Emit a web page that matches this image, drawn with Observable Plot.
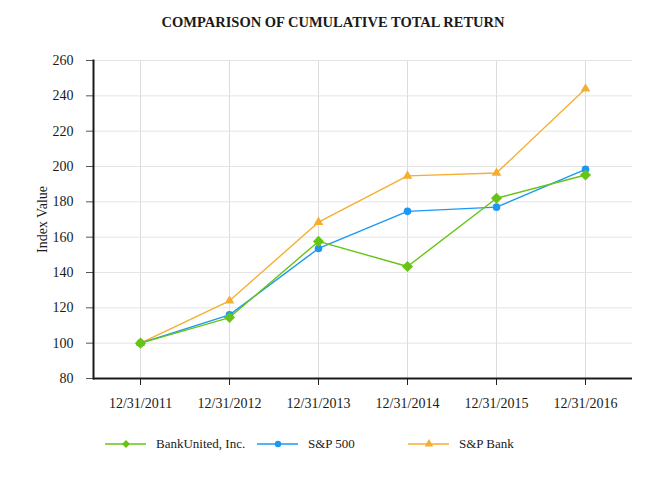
<!DOCTYPE html>
<html>
<head>
<meta charset="utf-8">
<script src="https://cdn.jsdelivr.net/npm/d3@7"></script>
<script src="https://cdn.jsdelivr.net/npm/@observablehq/plot@0.6"></script>
<style>
  html, body { margin: 0; padding: 0; background: #fff; }
  body { width: 666px; height: 480px; position: relative; overflow: hidden; font-family: "Liberation Serif", "DejaVu Serif", serif; color: #1a1a1a; }
  #title { height: 40px; line-height: 45px; text-align: center; font-weight: bold; font-size: 14.5px; }
  #chart { height: 380px; }
  #chart svg { display: block; }
  #legend { position: absolute; top: 432px; left: 0; width: 666px; height: 24px; }
  .item { position: absolute; top: 0; height: 24px; display: flex; align-items: center; font-size: 13px; }
  .item svg { margin-right: 10px; }
</style>
</head>
<body>
<div id="title">COMPARISON OF CUMULATIVE TOTAL RETURN</div>
<div id="chart"></div>
<div id="legend"></div>
<script>
const dates = ["12/31/2011", "12/31/2012", "12/31/2013", "12/31/2014", "12/31/2015", "12/31/2016"];
const seriesNames = ["S&P Bank", "S&P 500", "BankUnited, Inc."];
const bankUnited = [100, 114.5, 157.6, 143.4, 182, 195.2];
const sp500 = [100, 116, 153.6, 174.6, 177, 198.4];
const spBank = [100, 124, 168.5, 194.7, 196.3, 244];
const yTicks = [80, 100, 120, 140, 160, 180, 200, 220, 240, 260];
const colors = {"BankUnited, Inc.": "#66c414", "S&P 500": "#1b98f2", "S&P Bank": "#f5ae31"};
const symbols = {"BankUnited, Inc.": "diamond2", "S&P 500": "circle", "S&P Bank": "triangle"};
const sizes = {"BankUnited, Inc.": 5, "S&P 500": 3.8, "S&P Bank": 3.6};

const valuesBy = {"BankUnited, Inc.": bankUnited, "S&P 500": sp500, "S&P Bank": spBank};
const rows = [];
for (const s of seriesNames) {
  dates.forEach((d, i) => rows.push({series: s, date: d, value: valuesBy[s][i]}));
}

const marks = [
  Plot.gridX({stroke: "#dcdcdc", strokeOpacity: 1, strokeWidth: 1}),
  Plot.gridY(yTicks, {stroke: "#e4e4e4", strokeOpacity: 1, strokeWidth: 1}),
  Plot.axisY(yTicks, {tickSize: 7, tickPadding: 13, stroke: "#555", fontSize: 14, label: "Index Value", labelAnchor: "center", labelOffset: 56, labelArrow: false}),
  Plot.axisX({tickSize: 7, tickPadding: 13, stroke: "#222", fontSize: 14, label: null}),
  Plot.ruleY([80], {stroke: "#1a1a1a", strokeWidth: 2}),
  Plot.frame({anchor: "left", stroke: "#1a1a1a", strokeWidth: 2})
];
for (const s of seriesNames) {
  const data = rows.filter(r => r.series === s);
  marks.push(Plot.line(data, {x: "date", y: "value", stroke: colors[s], strokeWidth: 1.4}));
  marks.push(Plot.dot(data, {x: "date", y: "value", fill: colors[s], stroke: "none", symbol: symbols[s], r: sizes[s]}));
}

const chart = Plot.plot({
  width: 666,
  height: 380,
  marginTop: 20,
  marginBottom: 42,
  marginLeft: 93,
  marginRight: 34,
  style: {fontFamily: "Liberation Serif, serif", fontSize: "14px", color: "#1a1a1a", background: "#fff"},
  x: {type: "point", domain: dates, padding: 0.5, label: null},
  y: {domain: [80, 260], label: null},
  marks
});
document.getElementById("chart").appendChild(chart);

// legend
const legendOrder = ["BankUnited, Inc.", "S&P 500", "S&P Bank"];
const legendX = [105, 257, 408];
const legend = document.getElementById("legend");
legendOrder.forEach((s, i) => {
  const item = document.createElement("div");
  item.className = "item";
  item.style.left = legendX[i] + "px";
  const sw = d3.create("svg").attr("width", 41).attr("height", 12);
  sw.append("line").attr("x1", 0).attr("x2", 41).attr("y1", 6).attr("y2", 6).attr("stroke", colors[s]).attr("stroke-width", 1.6);
  const sym = {"diamond2": d3.symbolDiamond2, "circle": d3.symbolCircle, "triangle": d3.symbolTriangle}[symbols[s]];
  sw.append("path").attr("transform", "translate(21,6)").attr("d", d3.symbol(sym, s === "BankUnited, Inc." ? 40 : 32)()).attr("fill", colors[s]);
  item.appendChild(sw.node());
  const t = document.createElement("span");
  t.textContent = s;
  item.appendChild(t);
  legend.appendChild(item);
});
</script>
</body>
</html>
